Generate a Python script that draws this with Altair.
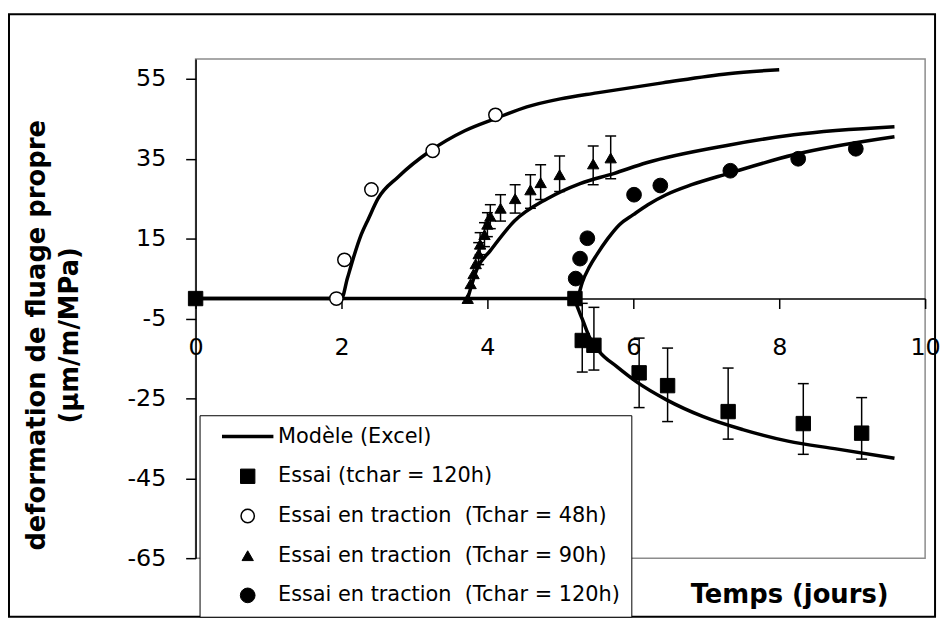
import altair as alt
import pandas as pd

# ---------------- data ----------------
cats = [
    "Modèle (Excel)",
    "Essai (tchar = 120h)",
    "Essai en traction\u00a0 (Tchar = 48h)",
    "Essai en traction\u00a0 (Tchar = 90h)",
    "Essai en traction\u00a0 (Tchar = 120h)",
]

# model curves (Excel)
m48_x = [0, 2.0, 2.08, 2.16, 2.27, 2.37, 2.5, 2.78, 3.22, 3.69, 4.1, 4.54, 5.0, 5.5, 6.4, 7.3, 8.0]
m48_y = [0, 0, 5, 10, 16, 20, 25, 30.5, 37, 42, 45, 48, 50, 51.5, 54, 56.3, 57.3]
m90_x = [3.73, 3.86, 4.04, 4.37, 4.82, 5.27, 5.73, 6.18, 7.3, 8.2, 9.58]
m90_y = [0, 7.5, 12, 19.4, 25, 28.8, 31.3, 34, 38.4, 41, 43]
m120t_x = [5.24, 5.3, 5.4, 5.5, 5.65, 5.81, 6.0, 6.2, 6.45, 6.8, 7.3, 8.2, 9.58]
m120t_y = [0, 4, 8, 11, 15, 18.5, 21, 23.5, 26, 28.5, 31.3, 36, 40.5]
m120c_x = [0, 5.16, 5.29, 5.4, 5.54, 5.77, 6.04, 6.45, 6.95, 7.5, 8.12, 8.8, 9.58]
m120c_y = [0, 0, -4.7, -9.7, -13.4, -17, -20.8, -25.3, -29.5, -32.8, -35.7, -37.7, -40]

# Essai (tchar = 120h) - squares
sq_x = [0, 5.2, 5.3, 5.46, 6.08, 6.47, 7.3, 8.33, 9.13]
sq_y = [0, 0, -10.5, -11.7, -18.6, -21.8, -28.3, -31.3, -33.7]
sq_err_x = [5.3, 5.46, 6.08, 6.47, 7.3, 8.33, 9.13]
sq_err_lo = [-18.4, -17.9, -27.3, -30.8, -35.2, -39.0, -40.2]
sq_err_hi = [-1.2, -2.2, -9.9, -12.4, -17.4, -21.3, -24.8]

# traction 48h - open circles
c48_x = [1.93, 2.04, 2.41, 3.25, 4.11]
c48_y = [0, 9.7, 27.3, 37, 46]

# traction 90h - triangles
t90_x = [3.73, 3.77, 3.81, 3.84, 3.88, 3.9, 3.96, 4.0, 4.04, 4.18, 4.38, 4.59, 4.73, 4.99, 5.45, 5.69]
t90_y = [0, 3.7, 6.2, 8.7, 11.2, 13.6, 16, 18.6, 20.6, 22.6, 25, 27.2, 29, 31, 33.7, 35.2]
t90_err_x = [3.88, 3.9, 3.96, 4.0, 4.04, 4.18, 4.38, 4.59, 4.73, 4.99, 5.45, 5.69]
t90_err_lo = [8.5, 11, 13, 15.5, 17.5, 19.4, 21.4, 22.6, 24.8, 26.8, 28.5, 30.0]
t90_err_hi = [14, 16.5, 19, 21.5, 23.5, 26, 28.5, 31, 33.5, 35.7, 38.2, 40.7]

# traction 120h - filled circles
c120_x = [5.21, 5.27, 5.37, 6.01, 6.37, 7.33, 8.26, 9.05]
c120_y = [5, 10, 15.1, 26, 28.3, 32, 35, 37.5]

x_ticks = [0, 2, 4, 6, 8, 10]
y_ticks = [-65, -45, -25, -5, 15, 35, 55]
x_dom = [0, 10]
y_dom = [-65, 60]

# ---------------- tables ----------------
curves = pd.concat([
    pd.DataFrame({"x": m48_x, "y": m48_y, "c": "m48"}),
    pd.DataFrame({"x": m90_x, "y": m90_y, "c": "m90"}),
    pd.DataFrame({"x": m120t_x, "y": m120t_y, "c": "m120t"}),
    pd.DataFrame({"x": m120c_x, "y": m120c_y, "c": "m120c"}),
], ignore_index=True)

points = pd.concat([
    pd.DataFrame({"x": sq_x, "y": sq_y, "serie": cats[1]}),
    pd.DataFrame({"x": c48_x, "y": c48_y, "serie": cats[2]}),
    pd.DataFrame({"x": t90_x, "y": t90_y, "serie": cats[3]}),
    pd.DataFrame({"x": c120_x, "y": c120_y, "serie": cats[4]}),
], ignore_index=True)

errs = pd.concat([
    pd.DataFrame({"x": sq_err_x, "lo": sq_err_lo, "hi": sq_err_hi}),
    pd.DataFrame({"x": t90_err_x, "lo": t90_err_lo, "hi": t90_err_hi}),
], ignore_index=True)

W, H = 735, 503
x_off = -H * (0 - y_dom[0]) / (y_dom[1] - y_dom[0])

xscale = alt.Scale(domain=x_dom, nice=False, zero=False)
yscale = alt.Scale(domain=y_dom, nice=False, zero=False)
x_title = "Temps (jours)"
y_title = ["deformation de fluage propre", "(µm/m/MPa)"]

xaxis = alt.Axis(values=x_ticks, offset=x_off, grid=False, tickSize=10, tickWidth=1.5,
                 domainWidth=1.5, domainColor="black", tickColor="black",
                 labelFont="DejaVu Sans", labelFontSize=24, labelColor="black",
                 labelPadding=27, labelFlush=False, labelExpr="'' + datum.value",
                 titleFont="DejaVu Sans", titleFontSize=26, titleFontWeight="bold",
                 titleColor="black", titleX=598, titleY=306, titleAlign="center",
                 titleBaseline="alphabetic")
yaxis = alt.Axis(values=y_ticks, grid=False, tickSize=10, tickWidth=1.5,
                 domainWidth=1.5, domainColor="black", tickColor="black",
                 labelFont="DejaVu Sans", labelFontSize=24, labelColor="black",
                 labelPadding=20, labelFlush=False, labelExpr="'' + datum.value",
                 titleFont="DejaVu Sans", titleFontSize=26, titleFontWeight="bold",
                 titleColor="black", titleX=-160, titleY=278, titleAlign="center",
                 titleBaseline="middle", titleAngle=270, titleLineHeight=33)


def X(f):
    return alt.X(f, type="quantitative", scale=xscale, axis=xaxis, title=x_title)


def Y(f):
    return alt.Y(f, type="quantitative", scale=yscale, axis=yaxis, title=y_title)


legend = alt.Legend(orient="none", legendX=4, legendY=359, title=None,
                    labelFont="DejaVu Sans", labelFontSize=21, labelColor="black",
                    labelLimit=0,
                    strokeColor="black", fillColor="white", padding=11,
                    symbolOffset=27, labelOffset=20, rowPadding=18)

line_sym = "M-3.7,0H3.7"
shapes = [line_sym, "square", "circle", "triangle-up", "circle"]
fills = ["black", "black", "white", "black", "black"]
sizes = [196, 210, 180, 130, 220]
sws = [3.5, 1, 1.5, 1, 1]

lines = alt.Chart(curves).mark_line(color="black", strokeWidth=3.5, interpolate="monotone").encode(
    x=X("x"), y=Y("y"), detail="c:N", order="x:Q"
)

err_rules = alt.Chart(errs).mark_rule(color="black", strokeWidth=1.5).encode(
    x=X("x"), y=Y("lo"), y2="hi"
)
cap_lo = alt.Chart(errs).mark_tick(color="black", orient="horizontal", size=11,
                                   thickness=1.5, opacity=1).encode(x=X("x"), y=Y("lo"))
cap_hi = alt.Chart(errs).mark_tick(color="black", orient="horizontal", size=11,
                                   thickness=1.5, opacity=1).encode(x=X("x"), y=Y("hi"))

pts = alt.Chart(points).mark_point(filled=True, opacity=1).encode(
    x=X("x"), y=Y("y"),
    shape=alt.Shape("serie:N", scale=alt.Scale(domain=cats, range=shapes), legend=legend),
    fill=alt.Fill("serie:N", scale=alt.Scale(domain=cats, range=fills), legend=legend),
    stroke=alt.Stroke("serie:N", scale=alt.Scale(domain=cats, range=["black"] * 5), legend=legend),
    size=alt.Size("serie:N", scale=alt.Scale(type="ordinal", domain=cats, range=sizes), legend=legend),
    strokeWidth=alt.StrokeWidth("serie:N", scale=alt.Scale(type="ordinal", domain=cats, range=sws),
                                legend=legend),
)

frame = alt.Chart(pd.DataFrame({"a": [0]})).mark_rect(
    fillOpacity=0, stroke="black", strokeWidth=2
).encode(x=alt.value(-188), x2=alt.value(745), y=alt.value(-45), y2=alt.value(562))

chart = alt.layer(frame, lines, err_rules, cap_lo, cap_hi, pts).properties(
    width=W, height=H,
    padding={"top": 3, "left": 0, "right": 0, "bottom": 0},
    background="white",
).configure_view(stroke="#8c8c8c", strokeWidth=1.5)

chart.save("out.html", embed_options={"renderer": "svg", "actions": False})
